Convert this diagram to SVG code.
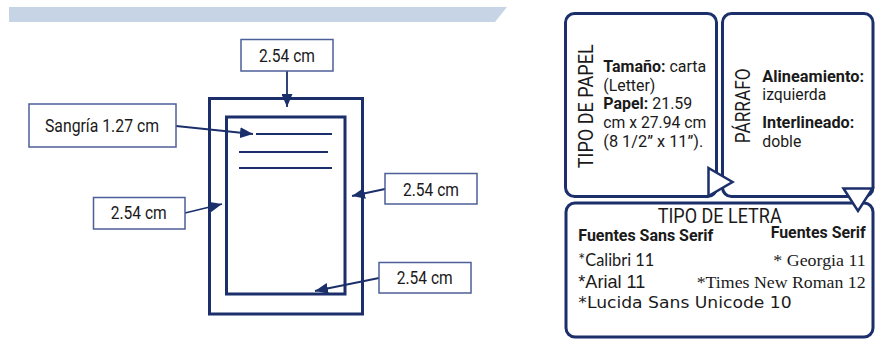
<svg xmlns="http://www.w3.org/2000/svg" width="877" height="339" viewBox="0 0 877 339">
<defs>
<marker id="ah" viewBox="0 0 13 11" refX="13" refY="5.5" markerWidth="13" markerHeight="11" markerUnits="userSpaceOnUse" orient="auto">
<path d="M0,0 L13,5.5 L0,11 Z" fill="#1b2f6b"/>
</marker>
<style>
.lbl{fill:#fff;stroke:#4d5f98;stroke-width:1.5}
.lt{font-family:Roboto,"Liberation Sans",sans-serif;font-size:18px;fill:#1a1a1a;text-anchor:middle}
.page{fill:none;stroke:#1b2f6b;stroke-width:3}
.ln{stroke:#1b2f6b;stroke-width:2}
.arr{stroke:#1b2f6b;stroke-width:1.8;fill:none;marker-end:url(#ah)}
.panel{fill:#fff;stroke:#1b2f6b;stroke-width:3}
.pt{font-family:Roboto,"Liberation Sans",sans-serif;font-size:16px;fill:#1a1a1a}
.b{font-weight:bold}
.hd{font-family:Roboto,"Liberation Sans",sans-serif;font-size:20px;fill:#1a1a1a}
.tri{fill:#fff;stroke:#1b2f6b;stroke-width:2.5;stroke-linejoin:miter}
</style>
</defs>
<polygon points="9,7 507,7 495,22 9,22" fill="#c6d4e6"/>

<g id="page">
<rect class="page" x="209.5" y="98.5" width="153" height="215.5"/>
<rect class="page" x="226.5" y="117" width="118.5" height="177"/>
<line class="ln" x1="256" y1="134" x2="332" y2="134"/>
<line class="ln" x1="239" y1="152" x2="328" y2="152"/>
<line class="ln" x1="239" y1="168" x2="332" y2="168"/>
</g>

<g id="connectors">
<line class="arr" x1="287" y1="71" x2="287" y2="107"/>
<line class="arr" x1="176" y1="126" x2="253" y2="134"/>
<line class="arr" x1="185" y1="213" x2="222" y2="204"/>
<line class="arr" x1="385" y1="189" x2="352" y2="196"/>
<line class="arr" x1="379" y1="278" x2="315" y2="291"/>
</g>

<g id="top-margin">
<rect class="lbl" x="241" y="39.5" width="92" height="31.5"/>
<text class="lt" x="287" y="62" textLength="56" lengthAdjust="spacingAndGlyphs">2.54 cm</text>
</g>
<g id="sangria">
<rect class="lbl" x="29" y="104" width="147" height="43"/>
<text class="lt" x="102" y="131.5" textLength="114" lengthAdjust="spacingAndGlyphs">Sangría 1.27 cm</text>
</g>
<g id="left-margin">
<rect class="lbl" x="93.5" y="197.5" width="91.5" height="31.5"/>
<text class="lt" x="138.7" y="219.3" textLength="56" lengthAdjust="spacingAndGlyphs">2.54 cm</text>
</g>
<g id="right-margin">
<rect class="lbl" x="385" y="173.5" width="92" height="30.5"/>
<text class="lt" x="431" y="195.7" textLength="56" lengthAdjust="spacingAndGlyphs">2.54 cm</text>
</g>
<g id="bottom-margin">
<rect class="lbl" x="379" y="262.5" width="92" height="30.5"/>
<text class="lt" x="424.7" y="284.3" textLength="56" lengthAdjust="spacingAndGlyphs">2.54 cm</text>
</g>

<g id="tipo-papel">
<rect class="panel" x="565.5" y="13.5" width="151" height="183" rx="9"/>
<text class="hd" transform="translate(593,168.3) rotate(-90)" textLength="124" lengthAdjust="spacingAndGlyphs">TIPO DE PAPEL</text>
<text class="pt" x="603.3" y="71.7" textLength="103" lengthAdjust="spacingAndGlyphs"><tspan class="b">Tamaño:</tspan> carta</text>
<text class="pt" x="603.3" y="90.5" textLength="52" lengthAdjust="spacingAndGlyphs">(Letter)</text>
<text class="pt" x="603.3" y="109" textLength="89" lengthAdjust="spacingAndGlyphs"><tspan class="b">Papel:</tspan> 21.59</text>
<text class="pt" x="603.3" y="128" textLength="103" lengthAdjust="spacingAndGlyphs">cm x 27.94 cm</text>
<text class="pt" x="603.3" y="146.7" textLength="100" lengthAdjust="spacingAndGlyphs">(8 1/2” x 11”).</text>
</g>

<g id="parrafo">
<rect class="panel" x="722.5" y="13.5" width="150.5" height="183" rx="9"/>
<text class="hd" transform="translate(750,143.3) rotate(-90)" textLength="75" lengthAdjust="spacingAndGlyphs">PÁRRAFO</text>
<text class="pt b" x="762.3" y="81.7" textLength="101.7" lengthAdjust="spacingAndGlyphs">Alineamiento:</text>
<text class="pt" x="762.3" y="99.5" textLength="64" lengthAdjust="spacingAndGlyphs">izquierda</text>
<text class="pt b" x="762.3" y="128.3" textLength="92" lengthAdjust="spacingAndGlyphs">Interlineado:</text>
<text class="pt" x="762.3" y="146.7" textLength="39" lengthAdjust="spacingAndGlyphs">doble</text>
</g>

<g id="tipo-letra">
<rect class="panel" x="566" y="203" width="307" height="134" rx="9"/>
<text class="hd" x="657.7" y="222.7" textLength="124" lengthAdjust="spacingAndGlyphs">TIPO DE LETRA</text>
<text class="pt b" x="578.3" y="241" textLength="135" lengthAdjust="spacingAndGlyphs">Fuentes Sans Serif</text>
<text class="pt b" x="770.7" y="238.3" textLength="95" lengthAdjust="spacingAndGlyphs">Fuentes Serif</text>
<text x="578.3" y="266" font-family="Lato,'Open Sans',sans-serif" font-size="17.5" fill="#1a1a1a" textLength="76" lengthAdjust="spacingAndGlyphs">*Calibri 11</text>
<text x="773.3" y="266" font-family="'Liberation Serif',serif" font-size="17.5" fill="#1a1a1a" textLength="92.4" lengthAdjust="spacingAndGlyphs">* Georgia 11</text>
<text x="578.3" y="288.3" font-family="'Liberation Sans',sans-serif" font-size="17.7" fill="#1a1a1a" textLength="67" lengthAdjust="spacingAndGlyphs">*Arial 11</text>
<text x="696.7" y="288.3" font-family="'Liberation Serif',serif" font-size="17.6" fill="#1a1a1a" textLength="169" lengthAdjust="spacingAndGlyphs">*Times New Roman 12</text>
<text x="578.3" y="308.3" font-family="'DejaVu Sans',sans-serif" font-size="16.5" fill="#1a1a1a" textLength="213.4" lengthAdjust="spacingAndGlyphs">*Lucida Sans Unicode 10</text>
</g>

<g id="pointers">
<polygon class="tri" points="708.5,168 732.5,182 708.5,196"/>
<polygon class="tri" points="843.5,188.5 872.5,188.5 858,211"/>
</g>
</svg>
